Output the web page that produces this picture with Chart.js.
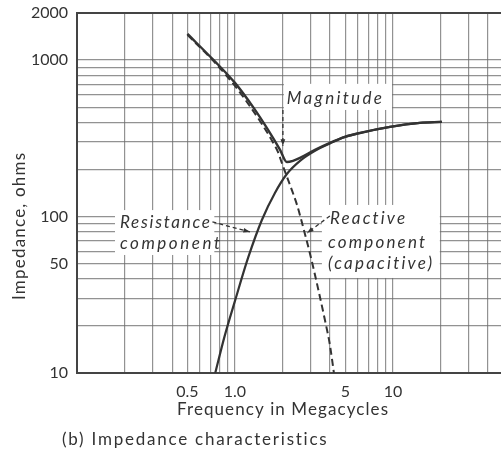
<!DOCTYPE html>
<html>
<head>
<meta charset="utf-8">
<script src="https://cdn.jsdelivr.net/npm/chart.js@4"></script>
<style>
  html, body { margin: 0; padding: 0; background: #fff; overflow: hidden; }
</style>
</head>
<body>
<canvas id="impedanceChart" width="501" height="454"></canvas>
<script>
// values (frequency in Mc, impedance in ohms)
const magFreq = [0.50, 0.73, 1.0, 1.30, 1.62, 1.93, 2.13, 2.33, 2.58, 3.21, 3.99, 4.97, 6.18, 9.57, 14.8, 20.4];
const magOhms = [1471, 1003, 715, 502, 358, 267, 223, 227, 237, 267, 296, 323, 342, 374, 397, 403];

const resFreq = [0.75, 0.86, 1.0, 1.21, 1.48, 1.79, 2.13, 2.58, 3.21, 3.99, 4.97, 6.18, 9.57, 14.8, 20.4];
const resOhms = [10, 17.2, 28.9, 54.4, 95.1, 141.5, 187, 227, 263, 293, 323, 342, 374, 397, 403];

const reaFreq = [0.50, 0.73, 1.0, 1.24, 1.48, 1.72, 1.87, 1.98, 2.23, 2.47, 2.73, 3.03, 3.35, 3.71, 3.99, 4.23];
const reaOhms = [1449, 988, 684, 509, 391, 304, 259, 220, 159, 118.7, 82.1, 54.4, 35.0, 21.8, 15.1, 10];

// grid lines and the few that carry a label
const xGridValues = [0.2, 0.3, 0.4, 0.5, 0.6, 0.7, 0.8, 0.9, 1, 2, 3, 4, 5, 6, 7, 8, 9, 10, 20, 30, 40];
const xLabelValues = [0.5, 1, 5, 10];
const xLabelText = ['0.5', '1.0', '5', '10'];

const yGridValues = [10, 20, 30, 40, 50, 60, 70, 80, 90, 100, 200, 300, 400, 500, 600, 700, 800, 900, 1000, 2000];
const yLabelValues = [10, 50, 100, 1000, 2000];
const yLabelText = ['10', '50', '100', '1000', '2000'];

const ink = '#333';
const fontName = 'Lato, "DejaVu Sans", sans-serif';

function pairs(xs, ys) {
  return xs.map((v, i) => ({ x: v, y: ys[i] }));
}

// the lettering in the scan is wide, so spread the letters to a set width
function fitText(ctx, text, x, y, width) {
  ctx.letterSpacing = '0px';
  const w = ctx.measureText(text).width;
  ctx.letterSpacing = ((width - w) / Math.max(text.length - 1, 1)) + 'px';
  ctx.fillText(text, x, y);
  ctx.letterSpacing = '0px';
}

// dashed leader with a small arrow head at (x2, y2)
function leader(ctx, x1, y1, x2, y2) {
  ctx.save();
  ctx.strokeStyle = ink;
  ctx.fillStyle = ink;
  ctx.lineWidth = 1.3;
  ctx.setLineDash([4, 3]);
  ctx.beginPath();
  ctx.moveTo(x1, y1);
  ctx.lineTo(x2, y2);
  ctx.stroke();
  ctx.setLineDash([]);
  const a = Math.atan2(y2 - y1, x2 - x1);
  ctx.beginPath();
  ctx.moveTo(x2, y2);
  ctx.lineTo(x2 - 7 * Math.cos(a - 0.35), y2 - 7 * Math.sin(a - 0.35));
  ctx.lineTo(x2 - 7 * Math.cos(a + 0.35), y2 - 7 * Math.sin(a + 0.35));
  ctx.closePath();
  ctx.fill();
  ctx.restore();
}

const notesPlugin = {
  id: 'notes',
  beforeDatasetsDraw(chart) {
    const { ctx, scales: { x, y } } = chart;
    const px = v => x.getPixelForValue(v);
    const py = v => y.getPixelForValue(v);

    // white patches that break the grid behind the notes
    ctx.save();
    ctx.fillStyle = '#fff';
    ctx.fillRect(px(2.04), py(705), px(9.86) - px(2.04), py(480) - py(705));
    ctx.fillRect(px(0.174), py(110), px(0.74) - px(0.174), py(56.8) - py(110));
    ctx.fillRect(px(3.55), py(118.6), px(19.8) - px(3.55), py(40.5) - py(118.6));
    ctx.restore();

    ctx.save();
    ctx.fillStyle = ink;
    ctx.font = 'italic 17px ' + fontName;
    ctx.textBaseline = 'alphabetic';
    fitText(ctx, 'Magnitude', px(2.13), py(525), 95);
    fitText(ctx, 'Resistance', px(0.187), py(84.5), 90);
    fitText(ctx, 'component', px(0.187), py(62.1), 100);
    fitText(ctx, 'Reactive', px(3.99), py(89.7), 75);
    fitText(ctx, 'component', px(3.88), py(63), 97);
    fitText(ctx, '(capacitive)', px(3.88), py(46.2), 104);
    ctx.restore();

    leader(ctx, px(2.01), py(480), px(2.01), py(283));
    leader(ctx, px(0.72), py(92.4), px(1.244), py(79.7));
    leader(ctx, px(3.99), py(100.9), px(2.86), py(78.5));
  },
  afterDraw(chart) {
    const { ctx } = chart;
    ctx.save();
    ctx.fillStyle = ink;
    ctx.font = '17px ' + fontName;
    ctx.textAlign = 'left';
    ctx.textBaseline = 'middle';
    fitText(ctx, 'Frequency in Megacycles', 177, 410, 211);
    fitText(ctx, '(b) Impedance characteristics', 62, 440, 265);
    ctx.translate(20, 300);
    ctx.rotate(-Math.PI / 2);
    fitText(ctx, 'Impedance, ohms', 0, 0, 147);
    ctx.restore();
  }
};

const ctx = document.getElementById('impedanceChart').getContext('2d');
const impedanceChart = new Chart(ctx, {
  type: 'line',
  data: {
    datasets: [
      {
        label: 'Magnitude',
        data: pairs(magFreq, magOhms),
        borderColor: ink,
        borderWidth: 2.4,
        pointRadius: 0,
        cubicInterpolationMode: 'monotone'
      },
      {
        label: 'Resistance component',
        data: pairs(resFreq, resOhms),
        borderColor: ink,
        borderWidth: 2.2,
        pointRadius: 0,
        cubicInterpolationMode: 'monotone'
      },
      {
        label: 'Reactive component (capacitive)',
        data: pairs(reaFreq, reaOhms),
        borderColor: ink,
        borderWidth: 2,
        borderDash: [7, 4],
        pointRadius: 0,
        cubicInterpolationMode: 'monotone'
      }
    ]
  },
  options: {
    responsive: false,
    animation: false,
    layout: {
      padding: { top: 13, left: 0, right: 0, bottom: 0 }
    },
    plugins: {
      legend: { display: false },
      tooltip: { enabled: false }
    },
    scales: {
      x: {
        type: 'logarithmic',
        min: 0.1,
        max: 48.3,
        afterBuildTicks: scale => {
          scale.ticks = xGridValues.map(v => ({ value: v }));
        },
        afterFit: scale => {
          scale.height = 81;
          scale.paddingLeft = 0;
          scale.paddingRight = 0;
        },
        grid: {
          color: 'rgba(110,110,110,0.75)',
          lineWidth: 1.2,
          drawTicks: false
        },
        border: { color: '#444', width: 2 },
        ticks: {
          autoSkip: false,
          maxRotation: 0,
          padding: 9,
          color: ink,
          font: { family: fontName, size: 16 },
          callback: value => {
            const i = xLabelValues.indexOf(value);
            return i >= 0 ? xLabelText[i] : '';
          }
        }
      },
      y: {
        type: 'logarithmic',
        min: 10,
        max: 2000,
        afterBuildTicks: scale => {
          scale.ticks = yGridValues.map(v => ({ value: v }));
        },
        afterFit: scale => {
          scale.width = 77;
          scale.paddingTop = 0;
          scale.paddingBottom = 0;
        },
        grid: {
          color: c => c.tick && c.tick.value === 2000 ? '#444' : 'rgba(110,110,110,0.75)',
          lineWidth: c => c.tick && c.tick.value === 2000 ? 2 : 1.2,
          drawTicks: false
        },
        border: { color: '#444', width: 2 },
        ticks: {
          autoSkip: false,
          padding: 9,
          color: ink,
          font: { family: fontName, size: 16 },
          callback: value => {
            const i = yLabelValues.indexOf(value);
            return i >= 0 ? yLabelText[i] : '';
          }
        }
      }
    }
  },
  plugins: [notesPlugin]
});
</script>
</body>
</html>
